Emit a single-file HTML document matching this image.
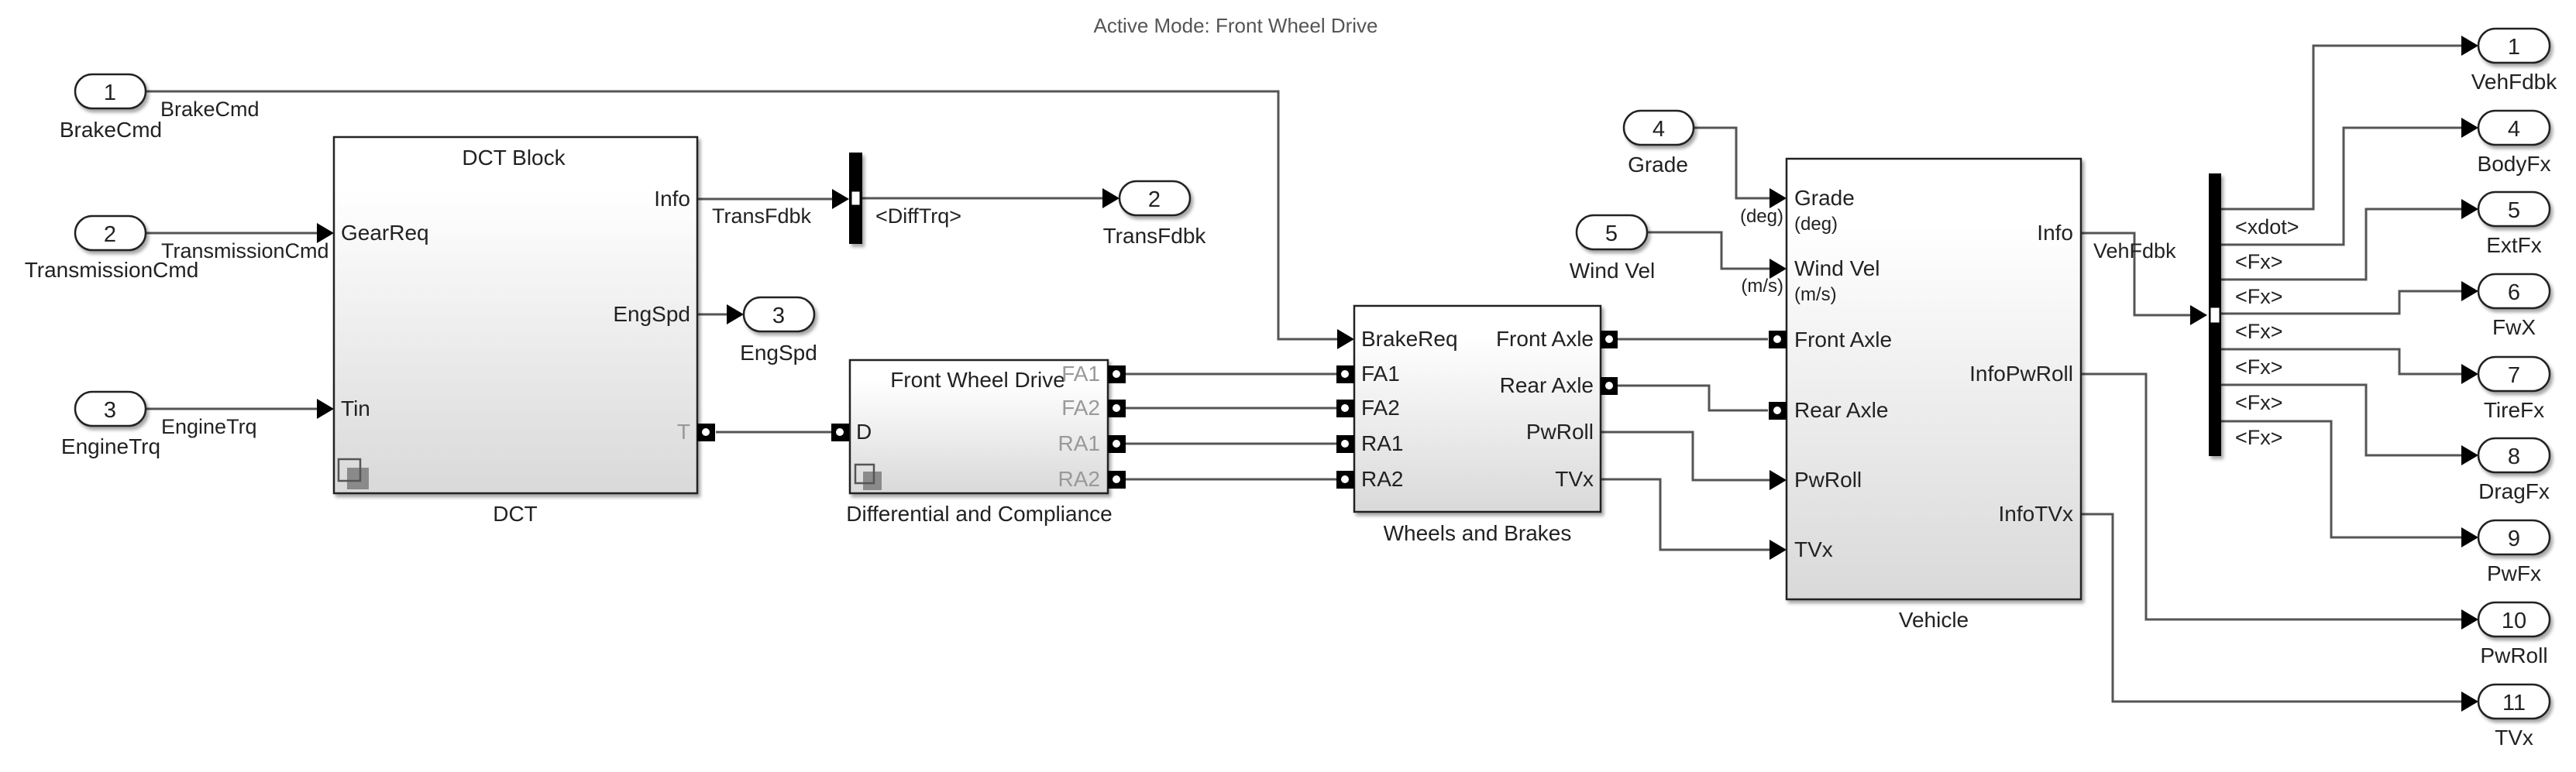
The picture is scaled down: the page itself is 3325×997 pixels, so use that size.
<!DOCTYPE html>
<html><head><meta charset="utf-8"><style>
html,body{margin:0;padding:0;background:#fff;}
svg{display:block;}
text{font-family:"Liberation Sans",Arial,sans-serif;fill:#222;}
</style></head><body>
<svg width="3325" height="997" viewBox="0 0 3325 997" xmlns="http://www.w3.org/2000/svg">
<defs>
<linearGradient id="g" x1="0" y1="0" x2="0" y2="1"><stop offset="0" stop-color="#ffffff"/><stop offset="0.15" stop-color="#ffffff"/><stop offset="1" stop-color="#d9d9d9"/></linearGradient>
<filter id="sh" x="-5%" y="-5%" width="115%" height="115%"><feDropShadow dx="3" dy="4" stdDeviation="2" flood-color="#000" flood-opacity="0.35"/></filter>
</defs>
<text x="1595" y="42" font-size="26" text-anchor="middle" fill="#555" style="fill:#555">Active Mode: Front Wheel Drive</text>

<g stroke="#555" stroke-width="3" fill="none">
<polyline points="188,118 1650,118 1650,438 1726,438"/>
<polyline points="188,301 412,301"/>
<polyline points="188,528 412,528"/>
<polyline points="900,257 1077,257"/>
<polyline points="1113,256 1426,256"/>
<polyline points="900,406 941,406"/>
<polyline points="924,558 1073,558"/>
<polyline points="1453,483 1725,483"/>
<polyline points="1453,527 1725,527"/>
<polyline points="1453,573 1725,573"/>
<polyline points="1453,619 1725,619"/>
<polyline points="2088,438 2282,438"/>
<polyline points="2088,498 2206,498 2206,530 2282,530"/>
<polyline points="2066,558 2185,558 2185,620 2287,620"/>
<polyline points="2066,619 2143,619 2143,710 2287,710"/>
<polyline points="2186,165 2241,165 2241,256 2287,256"/>
<polyline points="2126,300 2222,300 2222,347 2287,347"/>
<polyline points="2686,301 2755,301 2755,407 2830,407"/>
<polyline points="2686,483 2770,483 2770,800 3180,800"/>
<polyline points="2686,664 2727,664 2727,906 3180,906"/>
<polyline points="2867,270 2986,270 2986,59 3180,59"/>
<polyline points="2867,316 3025,316 3025,165 3180,165"/>
<polyline points="2867,361 3054,361 3054,270 3180,270"/>
<polyline points="2867,405 3097,405 3097,376 3180,376"/>
<polyline points="2867,451 3097,451 3097,483 3180,483"/>
<polyline points="2867,497 3054,497 3054,588 3180,588"/>
<polyline points="2867,544 3009,544 3009,694 3180,694"/>
</g>

<g fill="#000">
<polygon points="1726,425 1748,438 1726,451"/>
<polygon points="409,288 431,301 409,314"/>
<polygon points="409,515 431,528 409,541"/>
<polygon points="1074,244 1096,257 1074,270"/>
<polygon points="1423,243 1445,256 1423,269"/>
<polygon points="938,393 960,406 938,419"/>
<polygon points="2284,243 2306,256 2284,269"/>
<polygon points="2284,334 2306,347 2284,360"/>
<polygon points="2284,607 2306,620 2284,633"/>
<polygon points="2284,697 2306,710 2284,723"/>
<polygon points="2827,394 2849,407 2827,420"/>
<polygon points="3177,46 3199,59 3177,72"/>
<polygon points="3177,152 3199,165 3177,178"/>
<polygon points="3177,257 3199,270 3177,283"/>
<polygon points="3177,363 3199,376 3177,389"/>
<polygon points="3177,470 3199,483 3177,496"/>
<polygon points="3177,575 3199,588 3177,601"/>
<polygon points="3177,681 3199,694 3177,707"/>
<polygon points="3177,787 3199,800 3177,813"/>
<polygon points="3177,893 3199,906 3177,919"/>
</g>

<g fill="#fff" stroke="#222" stroke-width="2.5" filter="url(#sh)">
<rect x="97" y="96" width="91" height="44" rx="22"/>
<rect x="97" y="279" width="91" height="44" rx="22"/>
<rect x="97" y="506" width="91" height="44" rx="22"/>
<rect x="960" y="384" width="91" height="44" rx="22"/>
<rect x="1445" y="234" width="91" height="44" rx="22"/>
<rect x="2096" y="143" width="90" height="44" rx="22"/>
<rect x="2035" y="278" width="91" height="44" rx="22"/>
<rect x="3199" y="37" width="92" height="44" rx="22"/>
<rect x="3199" y="143" width="92" height="44" rx="22"/>
<rect x="3199" y="248" width="92" height="44" rx="22"/>
<rect x="3199" y="354" width="92" height="44" rx="22"/>
<rect x="3199" y="461" width="92" height="44" rx="22"/>
<rect x="3199" y="566" width="92" height="44" rx="22"/>
<rect x="3199" y="672" width="92" height="44" rx="22"/>
<rect x="3199" y="778" width="92" height="44" rx="22"/>
<rect x="3199" y="884" width="92" height="44" rx="22"/>
</g>
<g font-size="29" text-anchor="middle">
<text x="142" y="129">1</text><text x="142" y="312">2</text><text x="142" y="539">3</text>
<text x="1005" y="417">3</text><text x="1490" y="267">2</text>
<text x="2141" y="176">4</text><text x="2080" y="311">5</text>
<text x="3245" y="70">1</text><text x="3245" y="176">4</text><text x="3245" y="281">5</text>
<text x="3245" y="387">6</text><text x="3245" y="494">7</text><text x="3245" y="599">8</text>
<text x="3245" y="705">9</text><text x="3245" y="811">10</text><text x="3245" y="917">11</text>
</g>
<g font-size="28" text-anchor="middle">
<text x="143" y="177">BrakeCmd</text><text x="144" y="358">TransmissionCmd</text><text x="143" y="586">EngineTrq</text>
<text x="1005" y="465">EngSpd</text><text x="1490" y="314">TransFdbk</text>
<text x="2140" y="222">Grade</text><text x="2081" y="359">Wind Vel</text>
<text x="3245" y="115">VehFdbk</text><text x="3245" y="221">BodyFx</text><text x="3245" y="326">ExtFx</text>
<text x="3245" y="432">FwX</text><text x="3245" y="539">TireFx</text><text x="3245" y="644">DragFx</text>
<text x="3245" y="750">PwFx</text><text x="3245" y="856">PwRoll</text><text x="3245" y="962">TVx</text>
</g>

<g stroke="#222" stroke-width="2.5" fill="url(#g)" filter="url(#sh)">
<rect x="431" y="177" width="469" height="460"/>
<rect x="1097" y="465" width="333" height="172"/>
<rect x="1748" y="395" width="318" height="266"/>
<rect x="2306" y="205" width="380" height="569"/>
</g>
<g fill="#000" filter="url(#sh)">
<rect x="1096" y="197" width="17" height="118"/>
<rect x="2851" y="224" width="16" height="365"/>
</g>
<g fill="#fff" stroke="#000" stroke-width="1">
<rect x="1099" y="247" width="11" height="18"/>
<rect x="2853" y="397" width="12" height="20"/>
</g>

<g>
<rect x="448" y="604" width="28" height="28" fill="#8a8a8a" stroke="none"/>
<rect x="437" y="593" width="28" height="28" fill="none" stroke="#555" stroke-width="2.5"/>
<rect x="1114" y="609" width="24" height="24" fill="#8a8a8a"/>
<rect x="1104" y="600" width="24" height="24" fill="none" stroke="#555" stroke-width="2.5"/>
</g>

<g fill="#000">
<rect x="900" y="547" width="23" height="23"/>
<rect x="1073" y="547" width="23" height="23"/>
<rect x="1430" y="472" width="23" height="23"/><rect x="1430" y="516" width="23" height="23"/>
<rect x="1430" y="562" width="23" height="23"/><rect x="1430" y="608" width="23" height="23"/>
<rect x="1725" y="472" width="23" height="23"/><rect x="1725" y="516" width="23" height="23"/>
<rect x="1725" y="562" width="23" height="23"/><rect x="1725" y="608" width="23" height="23"/>
<rect x="2066" y="427" width="22" height="23"/><rect x="2066" y="487" width="22" height="23"/>
<rect x="2283" y="427" width="23" height="23"/><rect x="2283" y="519" width="23" height="23"/>
</g>
<g fill="#fff">
<circle cx="911" cy="558" r="5"/><circle cx="1084" cy="558" r="5"/>
<circle cx="1441" cy="483" r="5"/><circle cx="1441" cy="527" r="5"/><circle cx="1441" cy="573" r="5"/><circle cx="1441" cy="619" r="5"/>
<circle cx="1736" cy="483" r="5"/><circle cx="1736" cy="527" r="5"/><circle cx="1736" cy="573" r="5"/><circle cx="1736" cy="619" r="5"/>
<circle cx="2077" cy="438" r="5"/><circle cx="2077" cy="498" r="5"/>
<circle cx="2294" cy="438" r="5"/><circle cx="2294" cy="530" r="5"/>
</g>

<g font-size="28">
<text x="663" y="213" text-anchor="middle">DCT Block</text>
<text x="665" y="673" text-anchor="middle">DCT</text>
<text x="440" y="310">GearReq</text>
<text x="440" y="537">Tin</text>
<text x="891" y="266" text-anchor="end">Info</text>
<text x="891" y="415" text-anchor="end">EngSpd</text>
<text x="891" y="567" text-anchor="end" style="fill:#999">T</text>
<text x="1262" y="500" text-anchor="middle">Front Wheel Drive</text>
<text x="1264" y="673" text-anchor="middle">Differential and Compliance</text>
<text x="1105" y="567">D</text>
<g text-anchor="end">
<text x="1420" y="492" style="fill:#999">FA1</text><text x="1420" y="536" style="fill:#999">FA2</text>
<text x="1420" y="582" style="fill:#999">RA1</text><text x="1420" y="628" style="fill:#999">RA2</text>
</g>
<text x="1757" y="447">BrakeReq</text><text x="1757" y="492">FA1</text><text x="1757" y="536">FA2</text>
<text x="1757" y="582">RA1</text><text x="1757" y="628">RA2</text>
<g text-anchor="end">
<text x="2057" y="447">Front Axle</text><text x="2057" y="507">Rear Axle</text>
<text x="2057" y="567">PwRoll</text><text x="2057" y="628">TVx</text>
</g>
<text x="1907" y="698" text-anchor="middle">Wheels and Brakes</text>
<text x="2316" y="265">Grade</text><text x="2316" y="356">Wind Vel</text>
<text x="2316" y="448">Front Axle</text><text x="2316" y="539">Rear Axle</text>
<text x="2316" y="629">PwRoll</text><text x="2316" y="719">TVx</text>
<g text-anchor="end">
<text x="2676" y="310">Info</text><text x="2676" y="492">InfoPwRoll</text><text x="2676" y="673">InfoTVx</text>
</g>
<text x="2496" y="810" text-anchor="middle">Vehicle</text>
</g>
<g font-size="24">
<text x="2316" y="297">(deg)</text><text x="2316" y="388">(m/s)</text>
<text x="2302" y="287" text-anchor="end">(deg)</text><text x="2302" y="377" text-anchor="end">(m/s)</text>
</g>

<g font-size="27">
<text x="207" y="150">BrakeCmd</text>
<text x="208" y="333">TransmissionCmd</text>
<text x="208" y="560">EngineTrq</text>
<text x="919" y="288">TransFdbk</text>
<text x="1130" y="288">&lt;DiffTrq&gt;</text>
<text x="2702" y="333">VehFdbk</text>
<text x="2885" y="302">&lt;xdot&gt;</text>
<text x="2885" y="347">&lt;Fx&gt;</text>
<text x="2885" y="392">&lt;Fx&gt;</text>
<text x="2885" y="437">&lt;Fx&gt;</text>
<text x="2885" y="483">&lt;Fx&gt;</text>
<text x="2885" y="529">&lt;Fx&gt;</text>
<text x="2885" y="574">&lt;Fx&gt;</text>
</g>
</svg>
</body></html>
